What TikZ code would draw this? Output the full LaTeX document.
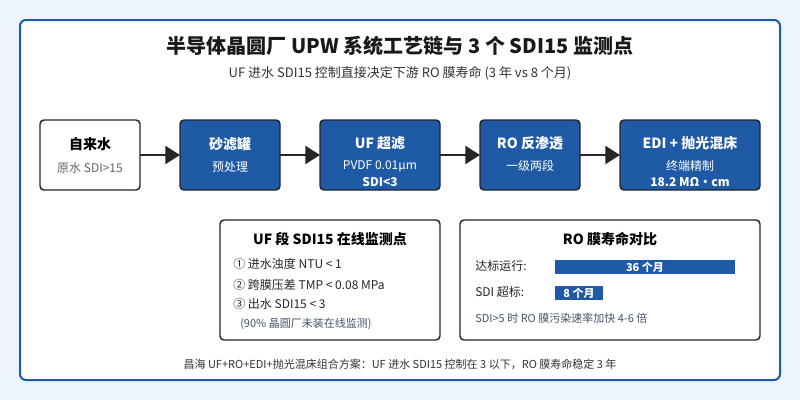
\documentclass[tikz,border=0pt]{standalone}
\usepackage{fontspec}
\setmainfont{Noto Sans CJK SC}
\usetikzlibrary{positioning,arrows.meta}

\definecolor{upwblue}{HTML}{1F5AA6}
\definecolor{pagebg}{HTML}{EEF4FB}
\definecolor{inkgray}{HTML}{333333}
\definecolor{notegray}{HTML}{44546A}

\tikzset{
  stagebox/.style={draw=black!85, line width=1.1pt, rounded corners=3pt,
    fill=upwblue, inner sep=0pt, outer sep=0pt, minimum height=52.5pt},
  rawbox/.style={stagebox, fill=white},
  panel/.style={draw=black!85, line width=1.1pt, rounded corners=3pt,
    fill=white, inner sep=0pt, outer sep=0pt},
  flow/.style={-{Triangle[length=11pt,width=13.5pt]}, line width=1.5pt, black!85},
  stagename/.style={font=\fontsize{10.5}{12}\selectfont\bfseries, inner sep=0pt},
  stagenote/.style={font=\fontsize{9}{10}\selectfont, inner sep=0pt},
  panelline/.style={font=\fontsize{9}{10}\selectfont, inner sep=0pt, anchor=west, text=black!85},
  bartext/.style={font=\fontsize{8.25}{9}\selectfont\bfseries, text=white, inner sep=0pt}
}

\begin{document}
\begin{tikzpicture}[x=0.75pt, y=-0.75pt]
  % --- page and frame ---
  \fill[pagebg] (0,0) rectangle (800,400);
  \draw[upwblue, line width=1.5pt, fill=white, rounded corners=4.5pt] (20,20) rectangle (780,380);

  % Title
  \node[font=\fontsize{15}{18}\selectfont\bfseries, text=black!90] (title) at (400,46)
    {半导体晶圆厂 UPW 系统工艺链与 3 个 SDI15 监测点};
  \node[font=\fontsize{9.75}{12}\selectfont, text=inkgray] (subtitle) at (400,73)
    {UF 进水 SDI15 控制直接决定下游 RO 膜寿命 (3 年 vs 8 个月)};

  % --- process chain ---
  \node[rawbox, minimum width=75pt]     (tap)  at (90,155)  {};
  \node[stagebox, minimum width=75pt]   (sand) at (230,155) {};
  \node[stagebox, minimum width=90pt]   (uf)   at (380,155) {};
  \node[stagebox, minimum width=75pt]   (ro)   at (530,155) {};
  \node[stagebox, minimum width=105pt]  (edi)  at (690,155) {};

  \node[stagename] (tapname) at (90,144) {自来水};
  \node[stagenote, text=black!60] (tapnote) at (90,168) {原水 SDI>15};

  \node[stagename, text=white] (sandname) at (230,144) {砂滤罐};
  \node[stagenote, text=white] (sandnote) at (230,167) {预处理};

  \node[stagename, text=white] (ufname) at (380,143) {UF 超滤};
  \node[stagenote, text=white] (ufnote) at (380,166) {PVDF 0.01μm};
  \node[stagenote, text=white, font=\fontsize{9}{10}\selectfont\bfseries] (ufsdi) at (380,182) {SDI<3};

  \node[stagename, text=white] (roname) at (530,143) {RO 反渗透};
  \node[stagenote, text=white] (ronote) at (530,166) {一级两段};

  \node[stagename, text=white] (ediname) at (690,143) {EDI + 抛光混床};
  \node[stagenote, text=white] (edinote) at (690,166) {终端精制};
  \node[stagenote, text=white, font=\fontsize{9}{10}\selectfont\bfseries] (ediohm) at (690,182) {18.2 MΩ・cm};

  % Arrows between stages
  \foreach \a/\b in {tap/sand, sand/uf, uf/ro, ro/edi}
    \draw[flow] (\a) -- (\b);

  % --- UF monitoring panel ---
  \node[panel, minimum width=165pt, minimum height=90pt] (monitor) at (330,280) {};
  \node[stagename] (montitle) at (330,239) {UF 段 SDI15 在线监测点};
  \node[panelline] (mon1) at (233,264) {① 进水浊度 NTU < 1};
  \node[panelline] (mon2) at (233,285) {② 跨膜压差 TMP < 0.08 MPa};
  \node[panelline] (mon3) at (233,304) {③ 出水 SDI15 < 3};
  \node[panelline, font=\fontsize{8.25}{9}\selectfont, text=notegray] (mon4) at (240,324) {(90\% 晶圆厂未装在线监测)};

  % --- RO lifetime panel ---
  \node[panel, minimum width=225pt, minimum height=90pt] (life) at (610,280) {};
  \node[stagename] (lifetitle) at (610,239) {RO 膜寿命对比};
  \node[panelline] (okname) at (475,266) {达标运行:};
  \node[panelline] (badname) at (475,292) {SDI 超标:};
  \fill[upwblue] (555,260) rectangle (735,274);
  \fill[upwblue] (555,286) rectangle (603,300);
  \node[bartext] (okbar) at (645,267) {36 个月};
  \node[bartext] (badbar) at (579,293) {8 个月};
  \node[panelline, font=\fontsize{8.25}{9}\selectfont, text=notegray] (lifenote) at (475,318)
    {SDI>5 时 RO 膜污染速率加快 4-6 倍};

  % Footer
  \node[font=\fontsize{8.25}{10}\selectfont, text=inkgray] (footer) at (400,364)
    {昌海 UF+RO+EDI+抛光混床组合方案：UF 进水 SDI15 控制在 3 以下，RO 膜寿命稳定 3 年};
\end{tikzpicture}
\end{document}
